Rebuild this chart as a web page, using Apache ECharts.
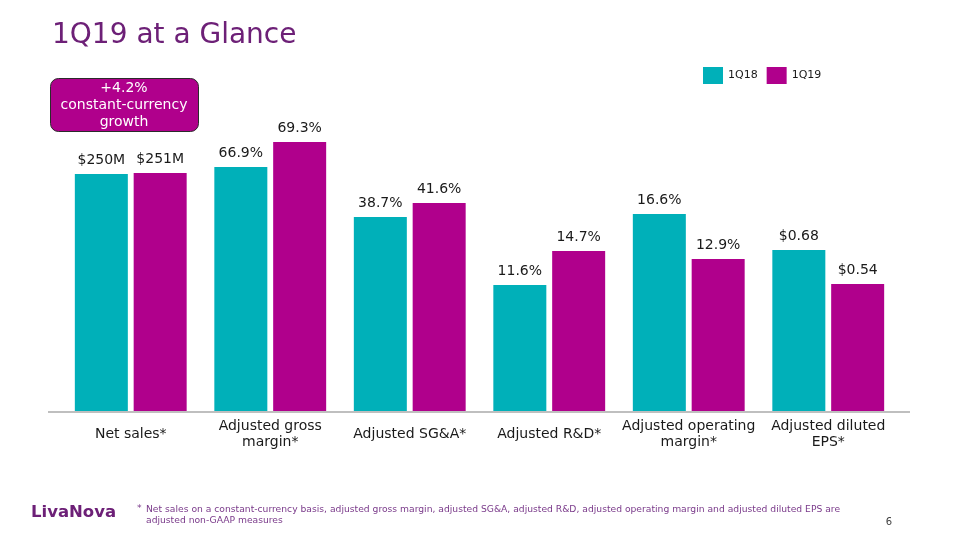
<!DOCTYPE html>
<html>
<head>
<meta charset="utf-8">
<script src="https://cdn.jsdelivr.net/npm/echarts@6/dist/echarts.min.js"></script>
<style>html,body{margin:0;padding:0;background:#fff}#c{width:958px;height:540px}</style>
</head>
<body>
<div id="c"></div>
<script>
// ---- data ----
const categories = ['Net sales*', 'Adjusted gross\nmargin*', 'Adjusted SG&A*', 'Adjusted R&D*', 'Adjusted operating\nmargin*', 'Adjusted diluted\nEPS*'];
const seriesNames = ['1Q18', '1Q19'];
const labels1Q18 = ['$250M', '66.9%', '38.7%', '11.6%', '16.6%', '$0.68'];
const labels1Q19 = ['$251M', '69.3%', '41.6%', '14.7%', '12.9%', '$0.54'];
// displayed bar heights (each group drawn on its own implicit scale in the original slide)
const barHeights1Q18 = [237, 244, 194, 126, 197, 161];
const barHeights1Q19 = [238, 269, 208, 160, 152, 127];
const calloutLines = ['+4.2%', 'constant-currency', 'growth'];
const footnoteLines = ['Net sales on a constant-currency basis, adjusted gross margin, adjusted SG&A, adjusted R&D, adjusted operating margin and adjusted diluted EPS are', 'adjusted non-GAAP measures'];

const FONT = 'Verdana, "DejaVu Sans", sans-serif';
const TEAL = '#00b0b9';
const MAGENTA = '#b0008c';
const PURPLE = '#6d2077';

const chart = echarts.init(document.getElementById('c'), null, {renderer: 'canvas'});

function mkSeries(name, heights, labels, color) {
  return {
    name: name,
    type: 'bar',
    barWidth: 53,
    barGap: '11%',
    itemStyle: {color: color},
    data: heights.map((h, i) => ({value: h, labelText: labels[i]})),
    label: {
      show: true,
      position: 'top',
      distance: 7,
      fontFamily: FONT,
      fontSize: 14,
      color: '#1a1a1a',
      formatter: p => p.data.labelText
    }
  };
}

chart.setOption({
  animation: false,
  backgroundColor: '#ffffff',
  textStyle: {fontFamily: FONT},
  legend: {
    data: seriesNames,
    left: 698,
    top: 62,
    itemWidth: 20,
    itemHeight: 17,
    itemGap: 9,
    icon: 'rect',
    textStyle: {fontFamily: FONT, fontSize: 11, color: '#1a1a1a'}
  },
  grid: {left: 61, right: 60, top: 111, bottom: 129, containLabel: false},
  xAxis: {
    type: 'category',
    data: categories,
    axisLine: {show: false},
    axisTick: {show: false},
    axisLabel: {
      interval: 0,
      margin: 23,
      verticalAlign: 'middle',
      fontFamily: FONT,
      fontSize: 14,
      lineHeight: 16,
      color: '#1a1a1a'
    }
  },
  yAxis: {
    type: 'value',
    min: 0,
    max: 300,
    show: false,
    splitLine: {show: false}
  },
  series: [
    mkSeries(seriesNames[0], barHeights1Q18, labels1Q18, TEAL),
    mkSeries(seriesNames[1], barHeights1Q19, labels1Q19, MAGENTA)
  ],
  graphic: [
    {type: 'line', shape: {x1: 48, y1: 412, x2: 910, y2: 412}, style: {stroke: '#bfbfbf', lineWidth: 2}, z: 10},
    {type: 'text', left: 52, top: 22, style: {text: '1Q19 at a Glance', fontFamily: FONT, fontSize: 28, fill: PURPLE}},
    {type: 'rect', shape: {x: 50.5, y: 78.5, width: 148, height: 53, r: 8}, style: {fill: MAGENTA, stroke: '#2b2b2b', lineWidth: 1}},
    {type: 'text', x: 124, y: 105, style: {text: calloutLines.join('\n'), fontFamily: FONT, fontSize: 14, lineHeight: 17, fill: '#ffffff', align: 'center', verticalAlign: 'middle'}},
    {type: 'text', x: 31, y: 513, style: {text: 'LivaNova', fontFamily: FONT, fontSize: 16.5, fontWeight: 'bold', fill: PURPLE, verticalAlign: 'middle'}},
    {type: 'text', x: 137, y: 509, style: {text: '*', fontFamily: FONT, fontSize: 9.2, fill: '#7a3a8a', verticalAlign: 'middle'}},
    {type: 'text', x: 146, y: 515, style: {text: footnoteLines.join('\n'), fontFamily: FONT, fontSize: 9.2, lineHeight: 11, fill: '#7a3a8a', verticalAlign: 'middle'}},
    {type: 'text', x: 889, y: 522, style: {text: '6', fontFamily: FONT, fontSize: 10, fill: '#404040', align: 'center', verticalAlign: 'middle'}}
  ]
});
</script>
</body>
</html>
